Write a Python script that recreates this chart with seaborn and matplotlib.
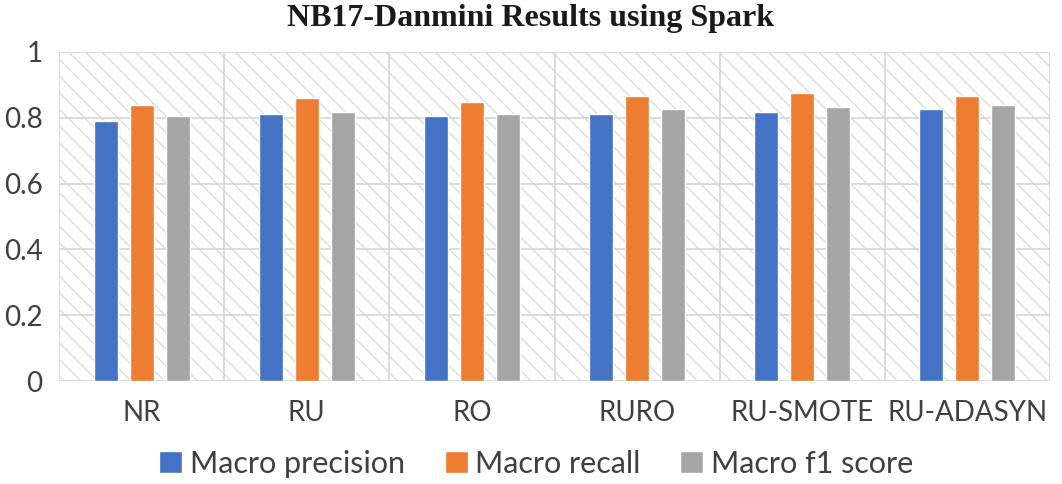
import matplotlib
matplotlib.use("Agg")
import matplotlib.pyplot as plt
import seaborn as sns
import pandas as pd
from matplotlib.patches import Rectangle

categories = ["NR", "RU", "RO", "RURO", "RU-SMOTE", "RU-ADASYN"]
series = ["Macro precision", "Macro recall", "Macro f1 score"]
precision = [0.791, 0.811, 0.805, 0.811, 0.818, 0.826]
recall = [0.839, 0.859, 0.849, 0.866, 0.874, 0.866]
f1 = [0.805, 0.819, 0.811, 0.826, 0.832, 0.839]
yticks = [0, 0.2, 0.4, 0.6, 0.8, 1]
ytick_labels = ["0", "0.2", "0.4", "0.6", "0.8", "1"]
colors = ["#4472C4", "#ED7D31", "#A5A5A5"]

rows = []
for name, vals in zip(series, [precision, recall, f1]):
    for c, v in zip(categories, vals):
        rows.append({"Method": c, "Metric": name, "Value": v})
df = pd.DataFrame(rows)

sns.set_theme(style="white")
plt.rcParams["font.family"] = ["Lato", "DejaVu Sans"]
plt.rcParams["hatch.linewidth"] = 1.0

fig = plt.figure(figsize=(10.62, 4.84), dpi=100)
ax = fig.add_axes([0.0556, 0.2128, 0.9331, 0.6798])

bg = Rectangle((0, 0), 1, 1, transform=ax.transAxes, facecolor="white",
               edgecolor="#dcdcdc", hatch="\\\\", lw=0, zorder=0)
ax.add_patch(bg)

sns.barplot(data=df, x="Method", y="Value", hue="Metric", order=categories,
            hue_order=series, palette=colors, width=0.655, gap=0.335,
            saturation=1, errorbar=None, ax=ax, zorder=3)

ax.set_ylim(0, 1)
ax.set_xlim(-0.5, len(categories) - 0.5)
ax.set_yticks(yticks)
ax.set_yticklabels(ytick_labels)
for y in yticks:
    ax.axhline(y, color="#d6d6d6", lw=1.2, zorder=1)
for i in range(len(categories) + 1):
    ax.axvline(i - 0.5, color="#d6d6d6", lw=1.2, zorder=1)
for s in ax.spines.values():
    s.set_visible(False)

ax.set_xlabel("")
ax.set_ylabel("")
ax.tick_params(axis="both", length=0, labelsize=20, colors="#404040")
ax.tick_params(axis="y", pad=12)
ax.tick_params(axis="x", pad=14)

fig.text(0.5, 0.962, "NB17-Danmini Results using Spark", family="Liberation Serif",
         fontsize=23, fontweight="bold", color="#1a1a1a", ha="center", va="center")

handles, labels = ax.get_legend_handles_labels()
if ax.legend_:
    ax.legend_.remove()
fig.legend(handles, labels, loc="center", bbox_to_anchor=(0.505, 0.042), ncol=3,
           frameon=False, fontsize=22, handlelength=0.75, handleheight=0.75,
           handletextpad=0.25, columnspacing=1.3, labelcolor="#404040")

fig.savefig("out.png", dpi=100)
